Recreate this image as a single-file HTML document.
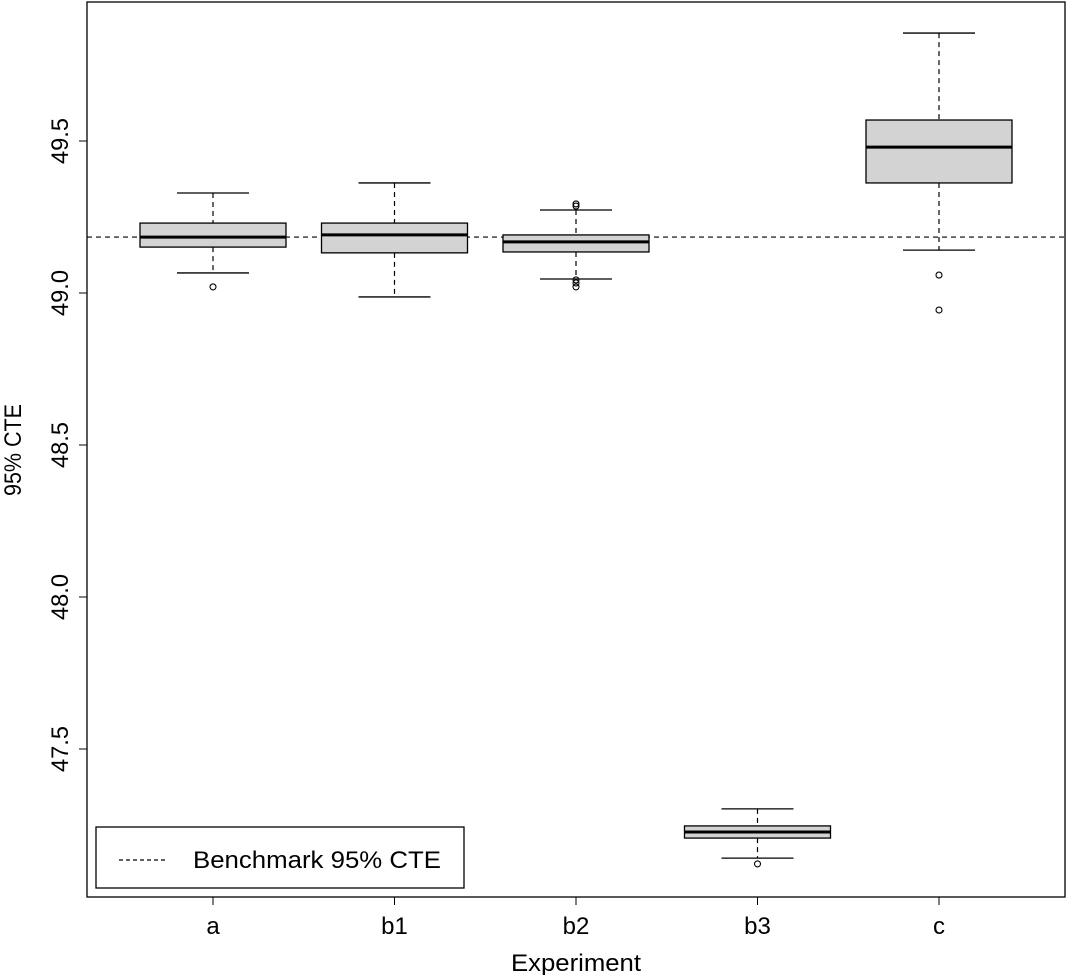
<!DOCTYPE html>
<html><head><meta charset="utf-8"><style>
html,body{margin:0;padding:0;background:#fff;}
svg{display:block;font-family:"Liberation Sans",Arial,sans-serif;}
</style></head><body>
<svg id="chart" width="1067" height="975" viewBox="0 0 1067 975"></svg>
<script>
const categories = ["a","b1","b2","b3","c"];
const upperWhisker = [49.329,49.362,49.273,47.303,49.855];
const q3 = [49.230,49.230,49.191,47.247,49.569];
const medians = [49.184,49.191,49.168,47.227,49.480];
const q1 = [49.151,49.132,49.135,47.207,49.362];
const lowerWhisker = [49.066,48.987,49.046,47.141,49.141];
const outliers = [[49.020],[],[49.293,49.286,49.043,49.033,49.020],[47.122],[49.059,48.944]];
const benchmark = 49.184;
const yTicks = [47.5,48.0,48.5,49.0,49.5];
const yTickLabels = ["47.5","48.0","48.5","49.0","49.5"];

const NS="http://www.w3.org/2000/svg";
const svg=document.getElementById('chart');
const L=87,R=1065,T=2,B=897;
function y(v){return 293-(v-49)*304;}
function x(i){return 213+i*181.5;}
function mk(tag,attrs,parent){const e=document.createElementNS(NS,tag);for(const k in attrs)e.setAttribute(k,attrs[k]);(parent||svg).appendChild(e);return e;}

const bl=mk('line',{x1:L,x2:R,y1:y(benchmark),y2:y(benchmark),stroke:'#000','stroke-width':1.2,'stroke-dasharray':'5,4'});



categories.forEach((c,i)=>{
  const g=mk('g',{});
  
  
  const cx=x(i),hw=73,cw=36;
  mk('line',{x1:cx,x2:cx,y1:y(upperWhisker[i]),y2:y(q3[i]),stroke:'#000','stroke-width':1.2,'stroke-dasharray':'5,4'},g);
  mk('line',{x1:cx,x2:cx,y1:y(q1[i]),y2:y(lowerWhisker[i]),stroke:'#000','stroke-width':1.2,'stroke-dasharray':'5,4'},g);
  mk('line',{x1:cx-cw,x2:cx+cw,y1:y(upperWhisker[i]),y2:y(upperWhisker[i]),stroke:'#000','stroke-width':1.3},g);
  mk('line',{x1:cx-cw,x2:cx+cw,y1:y(lowerWhisker[i]),y2:y(lowerWhisker[i]),stroke:'#000','stroke-width':1.3},g);
  mk('rect',{x:cx-hw,y:y(q3[i]),width:2*hw,height:y(q1[i])-y(q3[i]),fill:'#d3d3d3',stroke:'#000','stroke-width':1.3},g);
  mk('line',{x1:cx-hw,x2:cx+hw,y1:y(medians[i]),y2:y(medians[i]),stroke:'#000','stroke-width':3},g);
  outliers[i].forEach(o=>{
    const p=mk('circle',{cx:cx,cy:y(o),r:3,fill:'none',stroke:'#000','stroke-width':1.1},g);
    
    
  });
  mk('line',{x1:cx,x2:cx,y1:B,y2:B+8,stroke:'#000','stroke-width':1},svg);
  const t=mk('text',{x:cx,y:934,'text-anchor':'middle','font-size':24});
  t.textContent=c;
  
  
});

yTicks.forEach((v,i)=>{
  mk('line',{x1:L-8,x2:L,y1:y(v),y2:y(v),stroke:'#000','stroke-width':1});
  const t=mk('text',{x:0,y:0,'text-anchor':'middle','font-size':24,textLength:46,lengthAdjust:'spacingAndGlyphs',transform:`translate(68,${y(v)}) rotate(-90)`});
  t.textContent=yTickLabels[i];
  
  
});

const frame=mk('rect',{x:L,y:T,width:R-L,height:B-T,fill:'none',stroke:'#000','stroke-width':1.3});



const xt=mk('text',{x:576,y:971,'text-anchor':'middle','font-size':24,textLength:130,lengthAdjust:'spacingAndGlyphs'});
xt.textContent='Experiment';


const yt=mk('text',{x:0,y:0,'text-anchor':'middle','font-size':24,textLength:92,lengthAdjust:'spacingAndGlyphs',transform:'translate(21,450) rotate(-90)'});
yt.textContent='95% CTE';



const lg=mk('g',{});


mk('rect',{x:96,y:827,width:368,height:61,fill:'#fff',stroke:'#000','stroke-width':1.3},lg);
mk('line',{x1:119,x2:168,y1:860,y2:860,stroke:'#000','stroke-width':1.2,'stroke-dasharray':'4,3'},lg);
const lt=mk('text',{x:193,y:868,'font-size':24,textLength:248,lengthAdjust:'spacingAndGlyphs'},lg);
lt.textContent='Benchmark 95% CTE';


</script>
</body></html>
